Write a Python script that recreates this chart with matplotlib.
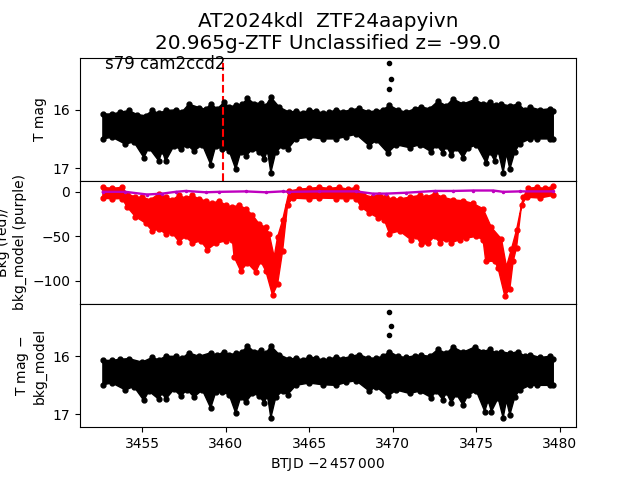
import numpy as np
import matplotlib
matplotlib.use('Agg')
import matplotlib.pyplot as plt

# T mag band (upper and lower edge of the dots)
t_top_hi = [3452.65,3453.2,3453.7,3454.2,3454.7,3455.2,3455.6,3456.0,3456.4,3457.0,3457.4,3457.8,3458.4,3458.8,3459.1,3459.5,3459.9,3460.2,3460.6,3461.0,3461.3,3461.7,3462.1,3462.4,3462.7,3463.2,3463.8,3464.2,3464.6,3465.0,3465.4,3465.8,3466.2,3466.6,3467.0,3467.5,3468.0,3468.5,3469.0,3469.4,3469.8,3470.3,3470.8,3471.3,3471.7,3472.2,3472.7,3473.2,3473.6,3474.2,3474.9,3475.4,3475.8,3476.2,3476.5,3477.0,3477.5,3477.9,3478.2,3478.8,3479.4,3479.6]
mag_top_hi = [16.07,16.07,16.04,16.01,16.08,16.10,16.01,16.06,16.01,16.00,16.03,15.90,15.96,15.99,15.90,15.98,15.87,15.95,15.92,15.90,15.80,15.89,15.88,15.93,15.78,15.95,16.04,16.02,16.05,16.00,16.02,16.05,16.04,16.00,16.03,16.00,15.97,16.03,16.02,16.00,15.92,16.00,16.04,15.98,15.95,15.98,15.85,15.93,15.81,15.90,15.82,15.90,15.87,15.92,15.90,15.93,15.90,16.00,15.95,16.00,15.98,16.02]
t_top_lo = [3452.65,3453.2,3454.0,3454.5,3455.1,3455.4,3456.0,3456.2,3456.4,3456.9,3457.3,3457.7,3458.1,3458.6,3459.1,3459.4,3459.8,3460.2,3460.6,3460.9,3461.2,3461.6,3462.0,3462.3,3462.5,3462.7,3463.0,3463.4,3463.7,3464.2,3465.0,3465.8,3466.6,3467.2,3467.8,3468.6,3469.0,3469.7,3470.2,3471.0,3471.6,3472.3,3472.6,3473.0,3473.2,3473.5,3473.8,3474.2,3474.5,3475.0,3475.6,3475.8,3476.1,3476.3,3476.6,3476.8,3477.0,3477.3,3477.6,3478.2,3478.6,3479.4,3479.6]
mag_top_lo = [16.50,16.47,16.59,16.55,16.82,16.65,16.88,16.70,16.88,16.62,16.68,16.60,16.71,16.60,16.94,16.62,16.68,16.70,17.02,16.72,16.79,16.68,16.72,16.85,16.70,17.08,16.72,16.62,16.68,16.50,16.47,16.50,16.50,16.46,16.42,16.62,16.52,16.74,16.60,16.65,16.60,16.72,16.60,16.74,16.62,16.78,16.65,16.82,16.66,16.60,16.92,16.72,16.88,16.70,17.08,16.75,17.02,16.72,16.58,16.50,16.50,16.50,16.50]

# T mag - bkg_model band
t_bot_hi = [3452.65,3453.2,3453.7,3454.2,3455.0,3455.6,3456.0,3456.4,3457.0,3457.4,3457.8,3458.4,3459.1,3459.5,3459.9,3460.2,3460.6,3461.0,3461.3,3461.7,3462.1,3462.4,3462.7,3463.2,3463.8,3464.2,3464.6,3465.0,3465.4,3465.8,3466.2,3466.6,3467.0,3467.5,3468.0,3468.5,3469.0,3469.4,3469.8,3470.3,3470.8,3471.3,3471.7,3472.2,3472.7,3473.2,3473.6,3474.2,3474.9,3475.4,3475.8,3476.2,3476.5,3477.0,3477.5,3477.9,3478.2,3478.8,3479.4,3479.6]
mag_bot_hi = [16.07,16.07,16.05,16.04,16.10,16.02,16.06,16.00,16.00,16.03,15.94,16.00,15.94,15.98,15.92,15.97,15.95,15.92,15.82,15.92,15.90,15.95,15.82,15.97,16.05,16.03,16.06,16.01,16.03,16.06,16.05,16.01,16.04,16.00,15.97,16.03,16.03,16.00,15.92,16.00,16.02,15.99,15.98,16.00,15.88,15.95,15.84,15.93,15.84,15.92,15.88,15.95,15.92,15.95,15.92,16.00,15.97,16.02,16.00,16.04]
t_bot_lo = [3452.65,3453.2,3454.0,3454.5,3455.1,3455.4,3456.0,3456.2,3456.4,3456.9,3457.3,3457.7,3458.1,3458.6,3459.1,3459.4,3459.8,3460.2,3460.6,3460.9,3461.2,3461.6,3462.0,3462.3,3462.5,3462.7,3463.0,3463.4,3463.7,3464.2,3465.0,3465.8,3466.6,3467.2,3467.8,3468.6,3469.0,3469.7,3470.2,3471.0,3471.6,3472.3,3472.6,3473.0,3473.2,3473.5,3473.8,3474.2,3474.5,3475.0,3475.5,3475.7,3475.9,3476.3,3476.6,3476.8,3477.0,3477.3,3477.6,3478.2,3478.6,3479.4,3479.6]
mag_bot_lo = [16.49,16.46,16.58,16.52,16.76,16.60,16.74,16.62,16.74,16.57,16.68,16.58,16.70,16.58,16.89,16.62,16.62,16.66,16.98,16.70,16.79,16.64,16.68,16.80,16.68,17.06,16.70,16.60,16.66,16.50,16.46,16.49,16.50,16.45,16.42,16.60,16.52,16.69,16.58,16.64,16.60,16.71,16.60,16.75,16.62,16.80,16.65,16.84,16.66,16.60,16.95,16.76,16.95,16.72,17.06,16.76,17.01,16.70,16.58,16.50,16.50,16.50,16.50]

# the three bright points near 3470
t_out = [3469.75,3469.9,3469.75]
mag_top_out = [15.20,15.47,15.64]
mag_bot_out = [15.23,15.47,15.64]

# background, red band
t_bkg_hi = [3452.65,3453.2,3453.8,3454.1,3454.6,3455.0,3455.5,3456.0,3456.4,3456.8,3457.2,3457.6,3458.0,3458.4,3458.8,3459.2,3459.6,3460.0,3460.4,3460.8,3461.2,3461.6,3462.0,3462.4,3462.6,3462.9,3463.1,3463.4,3463.8,3464.4,3465.0,3465.6,3466.2,3466.8,3467.3,3467.8,3468.2,3468.8,3469.2,3469.6,3470.0,3470.4,3471.0,3471.6,3472.0,3472.5,3473.0,3473.6,3474.2,3474.8,3475.4,3475.9,3476.5,3476.8,3477.1,3477.4,3477.8,3478.1,3478.6,3479.1,3479.6]
bkg_hi = [5,4,5,-2,-6,-6,-9,-2,-6,-9,-4,-7,-4,-8,-10,-13,-10,-15,-17,-15,-19,-26,-36,-40,-47,-73,-51,-32,1,3,4,5,4,5,3,5,-3,-6,-3,-6,-8,-8,-6,-4,-6,-2,-6,-9,-10,-13,-19,-40,-53,-84,-64,-43,-6,4,5,4,6]
t_bkg_lo = [3452.65,3453.2,3453.8,3454.1,3454.6,3455.2,3455.6,3456.0,3456.4,3456.8,3457.2,3457.6,3458.0,3458.5,3458.9,3459.4,3460.0,3460.4,3460.5,3460.9,3461.3,3461.8,3462.1,3462.4,3462.8,3463.1,3463.4,3463.7,3464.0,3465.0,3465.6,3466.6,3467.2,3467.8,3468.1,3468.6,3469.1,3469.5,3469.8,3470.4,3471.1,3471.4,3471.7,3472.1,3472.5,3472.8,3473.2,3473.5,3474.0,3474.4,3475.0,3475.4,3475.56,3476.1,3476.3,3476.7,3477.0,3477.2,3477.4,3477.7,3478.0,3478.8,3479.6]
bkg_lo = [-7,-8,-7.5,-17,-28,-35,-44,-42,-47,-46,-56,-50,-58,-55,-65,-58,-55,-54,-73,-89,-80,-90,-78,-89,-116,-104,-67,-15,-7,-8,-7,-7.5,-8,-7.5,-17,-24,-29,-32,-47,-44,-54,-50,-59,-58,-50,-57,-53,-57,-54,-52,-50,-54,-78,-78,-86,-117,-109,-78,-63,-15,-6,-7,-4]

# background model, purple
t_model = [3452.65,3454.0,3455.3,3456.2,3457.0,3457.6,3458.8,3459.6,3461.2,3462.4,3463.4,3463.8,3465.6,3467.8,3468.8,3469.6,3470.8,3472.5,3473.6,3474.8,3476.0,3476.6,3477.6,3479.6]
bkg_model = [0,0,-3,-2,0,1,-0.5,0,0.5,-0.5,0.5,0,0.5,0.5,-2,-2,-1,1,1,1.5,1.5,0,0.5,0.5]

t_sector = 3459.85
xticks = [3455,3460,3465,3470,3475,3480]


def band(ax, t_hi, y_hi, t_lo, y_lo, color):
    # solid body of the dots, then the dots on its edges
    ax.fill(np.r_[t_hi, t_lo[::-1]], np.r_[y_hi, y_lo[::-1]], color=color, lw=1)
    ax.plot(t_hi, y_hi, '.', color=color, ms=7)
    ax.plot(t_lo, y_lo, '.', color=color, ms=7)


fig, axs = plt.subplots(3, 1, sharex=True)
fig.subplots_adjust(hspace=0)
axs[0].set_title('AT2024kdl  ZTF24aapyivn\n20.965g-ZTF Unclassified z= -99.0', fontsize='x-large')

axs[0].axvline(t_sector, color='r', ls='--')
band(axs[0], t_top_hi, mag_top_hi, t_top_lo, mag_top_lo, 'k')
axs[0].plot(t_out, mag_top_out, 'k.', ms=6)
axs[0].set_ylim(17.22, 15.10)
axs[0].set_yticks([16, 17])
axs[0].set_ylabel('T mag')
axs[0].text(0.05, 0.95, 's79 cam2ccd2', transform=axs[0].transAxes, fontsize=12, va='center')

band(axs[1], t_bkg_hi, bkg_hi, t_bkg_lo, bkg_lo, 'r')
axs[1].plot(t_model, bkg_model, 'm.-', ms=3, lw=1.7)
axs[1].set_ylim(-126, 12.4)
axs[1].set_yticks([0, -50, -100])
axs[1].set_ylabel('Bkg (red)/\nbkg_model (purple)')

band(axs[2], t_bot_hi, mag_bot_hi, t_bot_lo, mag_bot_lo, 'k')
axs[2].plot(t_out, mag_bot_out, 'k.', ms=6)
axs[2].set_ylim(17.22, 15.10)
axs[2].set_yticks([16, 17])
axs[2].set_ylabel('T mag $-$\nbkg_model')

axs[2].set_xlim(3451.28, 3480.96)
axs[2].set_xticks(xticks)
axs[2].set_xlabel(r'BTJD $-2\,457\,000$')
axs[0].tick_params(bottom=False)
axs[1].tick_params(bottom=False)

fig.savefig('out.png', dpi=100)
